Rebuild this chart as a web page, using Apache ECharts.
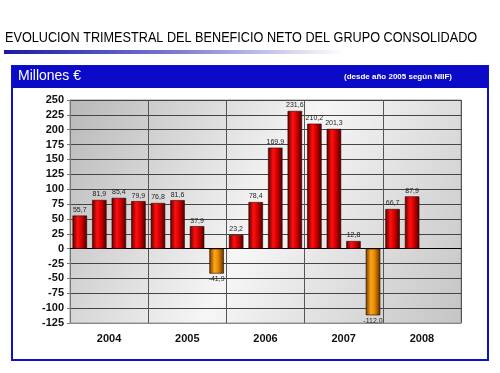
<!DOCTYPE html>
<html><head><meta charset="utf-8">
<script src="https://cdn.jsdelivr.net/npm/echarts@6/dist/echarts.min.js"></script>
<style>html,body{margin:0;padding:0;background:#fff}#c{width:500px;height:373px}</style>
</head><body><div id="c"></div>
<script>
const quarters = ['2004T1','2004T2','2004T3','2004T4','2005T1','2005T2','2005T3','2005T4','2006T1','2006T2','2006T3','2006T4','2007T1','2007T2','2007T3','2007T4','2008T1','2008T2','2008T3','2008T4'];
const years = ['2004','2005','2006','2007','2008'];
const profit = [55.7,81.9,85.4,79.9,76.8,81.6,37.9,-41.9,23.2,78.4,169.9,231.6,210.2,201.3,12.8,-112.0,66.7,87.9,null,null];
const yTicks = {min:-125, max:250, step:25};

const chart = echarts.init(document.getElementById('c'), null, {renderer:'canvas'});
const redGrad = new echarts.graphic.LinearGradient(0,0,1,0,[
  {offset:0,color:'#5a0000'},{offset:0.35,color:'#ff1010'},{offset:0.6,color:'#d80000'},{offset:1,color:'#4a0000'}]);
const orGrad = new echarts.graphic.LinearGradient(0,0,1,0,[
  {offset:0,color:'#6a3c00'},{offset:0.35,color:'#ffa418'},{offset:0.6,color:'#e88a00'},{offset:1,color:'#5a3200'}]);
const bg = new echarts.graphic.LinearGradient(0,0,1,1,[
  {offset:0,color:'#b8b8b8'},{offset:0.5,color:'#f6f6f6'},{offset:1,color:'#c4c4c4'}]);

const fmt = v => v.toFixed(1).replace('.',',');
chart.setOption({
  animation:false,
  graphic:[
    {type:'text',x:5,y:31,scaleX:0.905,style:{text:'EVOLUCION TRIMESTRAL DEL BENEFICIO NETO DEL GRUPO CONSOLIDADO',font:'14px "Liberation Sans", Arial',fill:'#000'}},
    {type:'rect',shape:{x:4,y:50,width:340,height:4},style:{fill:new echarts.graphic.LinearGradient(0,0,1,0,[{offset:0,color:'#1a1aa8'},{offset:0.5,color:'#7a7ad0'},{offset:1,color:'#ffffff'}])}},
    {type:'rect',z:-10,shape:{x:12,y:66,width:476,height:294},style:{fill:'#fff',stroke:'#1010c8',lineWidth:2}},
    {type:'rect',z:-9,shape:{x:12,y:66,width:476,height:22},style:{fill:'#0a0ac8'}},
    {type:'text',left:18,top:69,style:{text:'Millones €',font:'14px "Liberation Sans", Arial',fill:'#fff'}},
    {type:'text',left:344,top:73,style:{text:'(desde año 2005 según NIIF)',font:'bold 8px "Liberation Sans", Arial',fill:'#fff'}}
  ],
  grid:{left:70,top:100,right:39,bottom:50,show:true,backgroundColor:bg,borderColor:'#999',borderWidth:1},
  xAxis:[
    {type:'category',data:quarters,axisLine:{onZero:true,lineStyle:{color:'#000',width:1}},axisTick:{show:false},axisLabel:{show:false},splitLine:{show:false}},
    {type:'category',data:years,position:'bottom',axisLine:{onZero:false,show:true,lineStyle:{color:'#888'}},axisTick:{show:false},
     axisLabel:{fontSize:11,fontWeight:'bold',color:'#111',margin:10,fontFamily:'"Liberation Sans", Arial'},
     splitLine:{show:true,lineStyle:{color:'#555',width:1}}}
  ],
  yAxis:{type:'value',min:yTicks.min,max:yTicks.max,interval:yTicks.step,
    axisLine:{show:true,lineStyle:{color:'#777'}},axisTick:{show:true,length:3,lineStyle:{color:'#777'}},
    axisLabel:{fontSize:11,fontWeight:'bold',color:'#111',margin:6,fontFamily:'"Liberation Sans", Arial'},
    splitLine:{lineStyle:{color:'#444',width:1}}},
  series:[{
    type:'bar',xAxisIndex:0,barCategoryGap:'26%',
    data:profit.map(v=>v===null?'-':{value:v,itemStyle:{color:v<0?orGrad:redGrad},
      label:{position:v<0?'bottom':'top'}}),
    itemStyle:{borderColor:'#300000',borderWidth:0.6},
    label:{show:true,fontSize:7,color:'#222',distance:2,fontFamily:'"Liberation Sans", Arial',formatter:p=>fmt(p.value)}
  }]
});
</script></body></html>
